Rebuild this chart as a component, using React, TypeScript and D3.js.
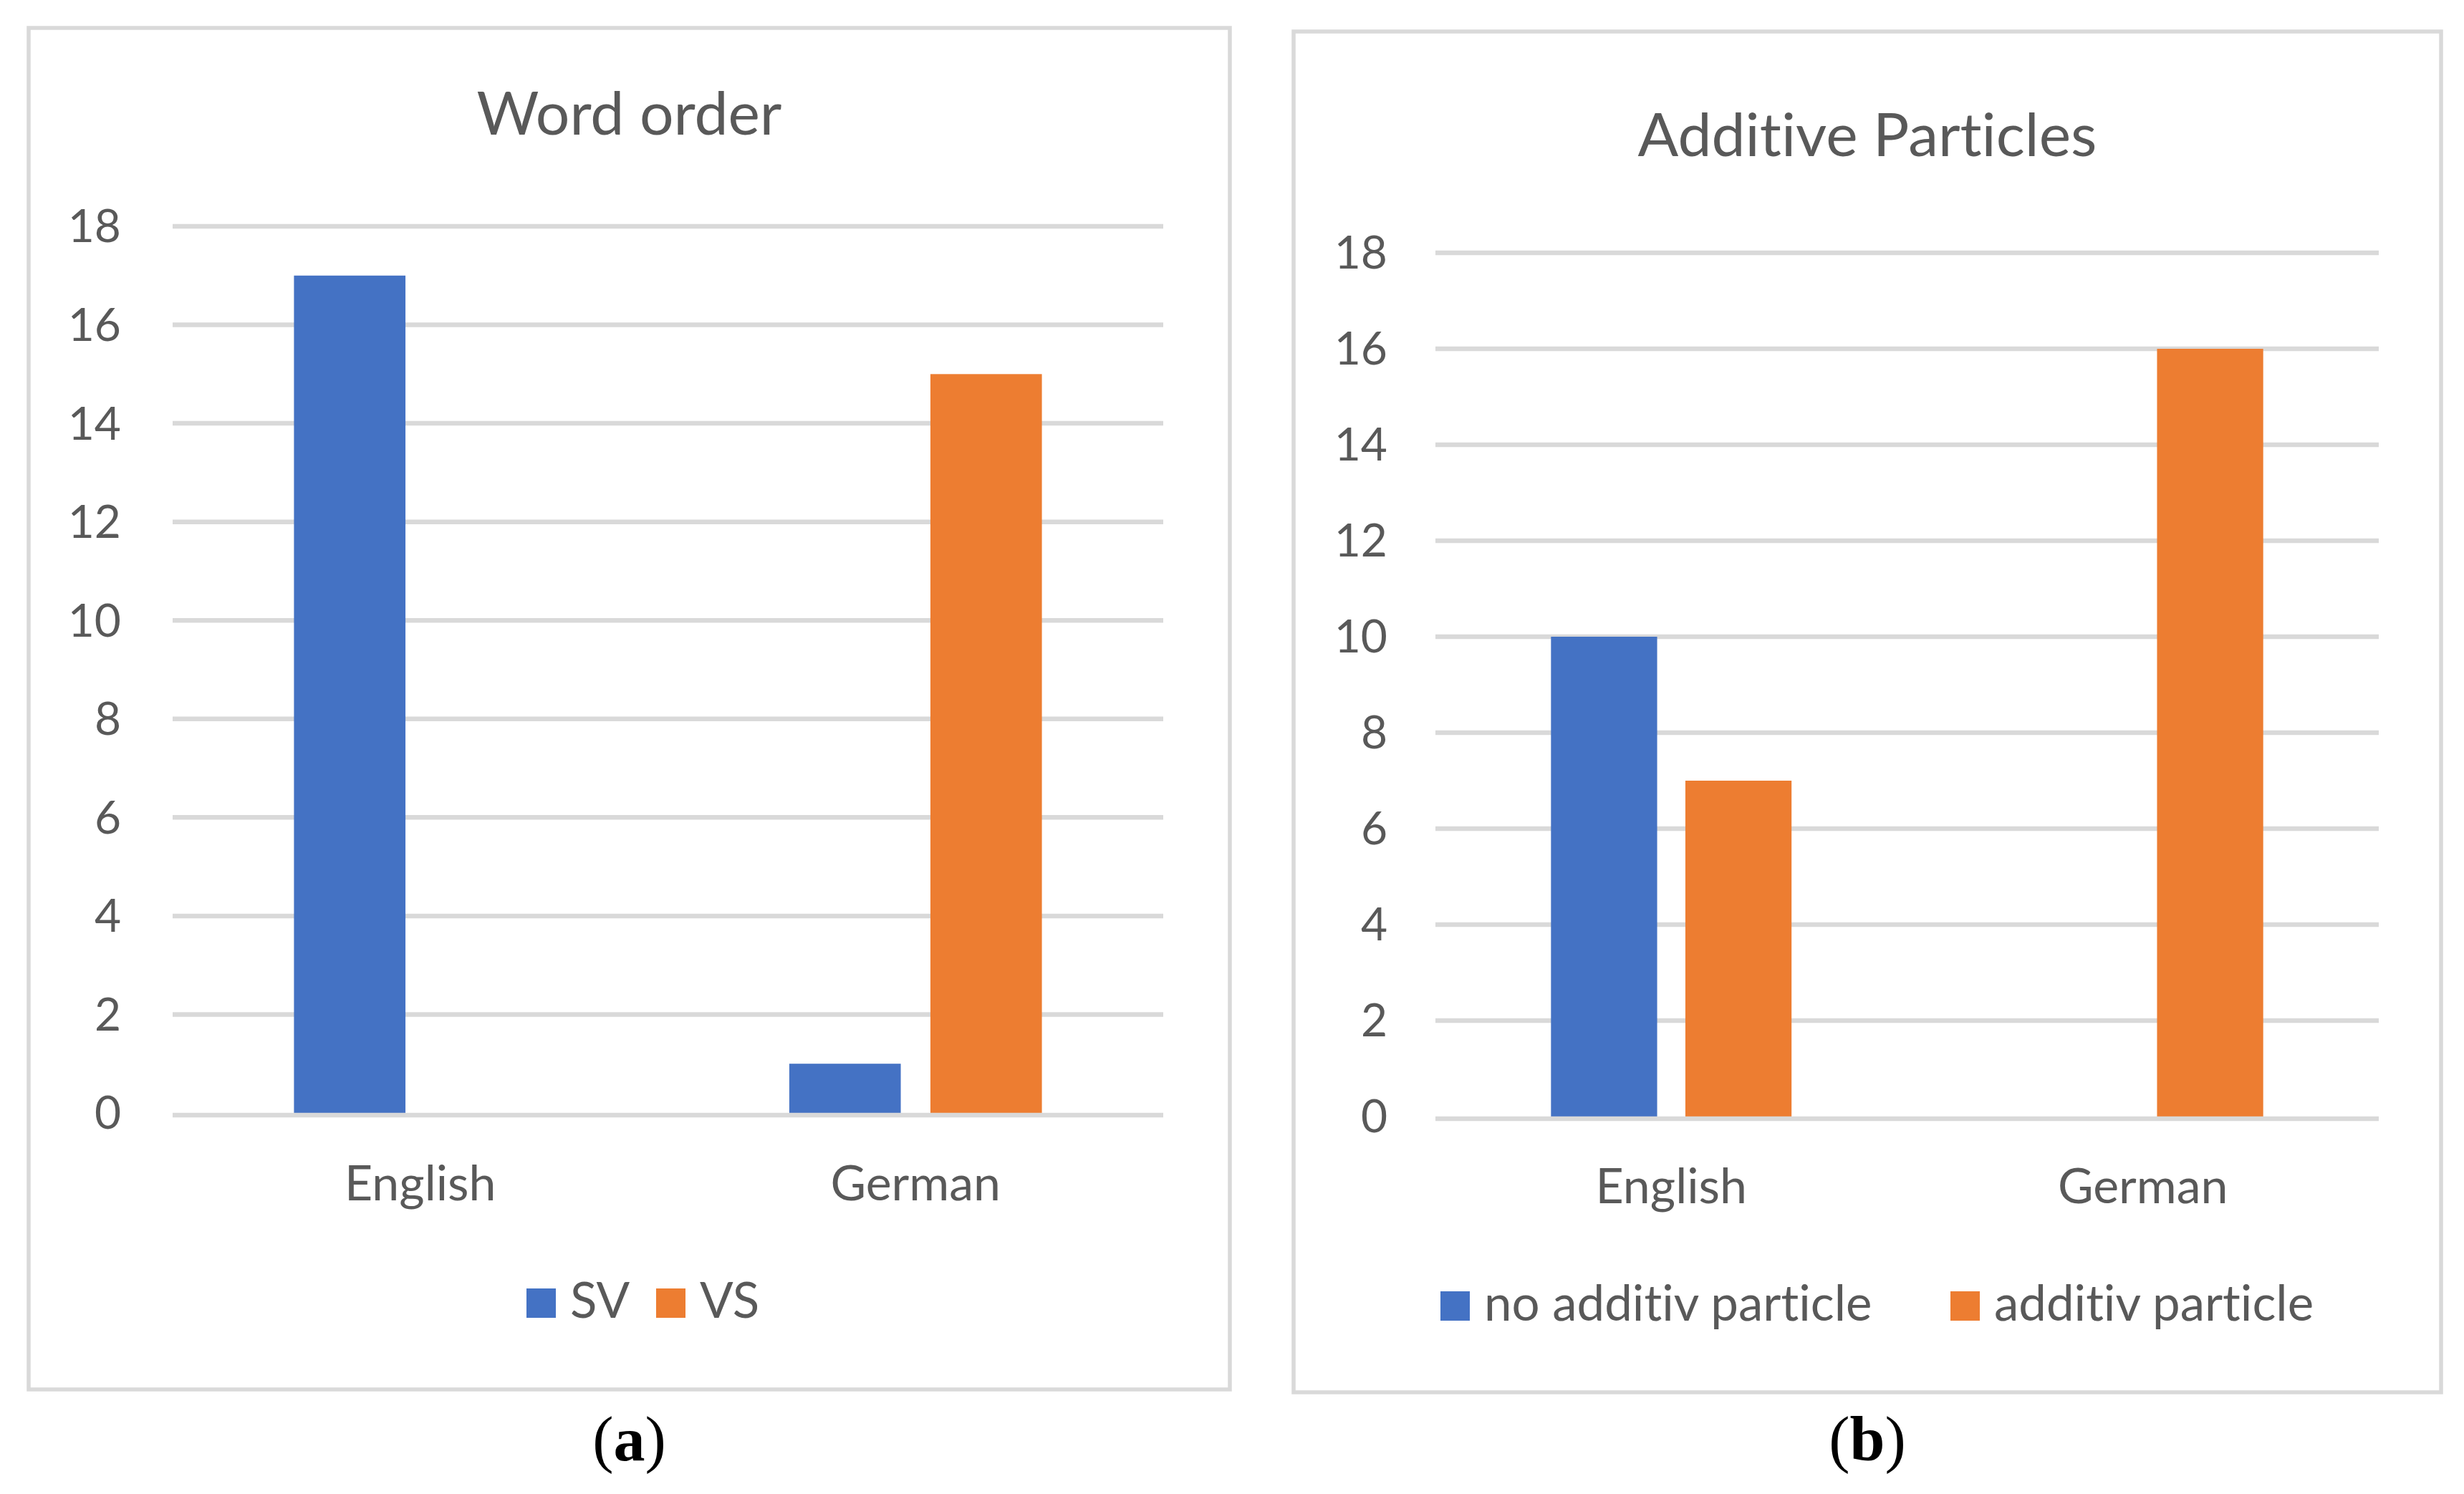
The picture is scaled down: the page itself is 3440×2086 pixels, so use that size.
import React, { useRef, useEffect } from 'react';
import { select, scaleLinear, scaleBand } from 'd3';

const categories = ['English', 'German'];
const yTicks = [0, 2, 4, 6, 8, 10, 12, 14, 16, 18];

const wordOrderSeries = ['SV', 'VS'];
const wordOrderSV = [17, 1];
const wordOrderVS = [0, 15];

const particleSeries = ['no additiv particle', 'additiv particle'];
const particleNone = [10, 0];
const particleAdditive = [7, 16];

const colors = ['#4472c4', '#ed7d31'];
const textColor = '#595959';
const gridColor = '#d9d9d9';
const font = 'Lato, "Open Sans", sans-serif';

const panels = [
    {
        title: 'Word order',
        caption: 'a',
        series: wordOrderSeries,
        values: [wordOrderSV, wordOrderVS],
        box: { x0: 40, y0: 39, x1: 1717, y1: 1940 },
        plot: { x0: 241, x1: 1624, y0: 316, y1: 1554 },
        titleY: 188,
        tickX: 169,
        labelY: 1676,
        legendX: [735, 916],
        legendY: 1799,
    },
    {
        title: 'Additive Particles',
        caption: 'b',
        series: particleSeries,
        values: [particleNone, particleAdditive],
        box: { x0: 1806, y0: 44, x1: 3408, y1: 1944 },
        plot: { x0: 2004, x1: 3321, y0: 353, y1: 1559 },
        titleY: 218,
        tickX: 1937,
        labelY: 1680,
        legendX: [2011, 2723],
        legendY: 1803,
    },
];

const drawPanel = (g, p) => {
    const cx = (p.box.x0 + p.box.x1) / 2;

    g.append('rect')
        .attr('x', p.box.x0)
        .attr('y', p.box.y0)
        .attr('width', p.box.x1 - p.box.x0)
        .attr('height', p.box.y1 - p.box.y0)
        .attr('fill', '#fff')
        .attr('stroke', gridColor)
        .attr('stroke-width', 5.5);

    g.append('text')
        .attr('x', cx)
        .attr('y', p.titleY)
        .attr('text-anchor', 'middle')
        .attr('font-size', 84)
        .attr('fill', textColor)
        .text(p.title);

    const yScale = scaleLinear().domain([0, 18]).range([p.plot.y1, p.plot.y0]);
    const xScale = scaleBand()
        .domain(categories)
        .range([p.plot.x0, p.plot.x1])
        .paddingInner(0.49)
        .paddingOuter(0.245);
    const inner = scaleBand()
        .domain(p.series)
        .range([0, xScale.bandwidth()])
        .paddingInner(0.21);

    // gridlines (behind bars)
    g.selectAll('.grid')
        .data(yTicks.filter(t => t > 0))
        .join('line')
        .attr('x1', p.plot.x0)
        .attr('x2', p.plot.x1)
        .attr('y1', d => yScale(d))
        .attr('y2', d => yScale(d))
        .attr('stroke', gridColor)
        .attr('stroke-width', 6.5);

    g.selectAll('.tick')
        .data(yTicks)
        .join('text')
        .attr('x', p.tickX)
        .attr('y', d => yScale(d))
        .attr('dy', '0.35em')
        .attr('text-anchor', 'end')
        .attr('font-size', 64)
        .attr('fill', textColor)
        .text(d => d);

    p.series.forEach((s, si) => {
        g.append('g')
            .selectAll('rect')
            .data(p.values[si])
            .join('rect')
            .attr('x', (d, i) => xScale(categories[i]) + inner(s))
            .attr('width', inner.bandwidth())
            .attr('y', d => yScale(d))
            .attr('height', d => yScale(0) - yScale(d))
            .attr('fill', colors[si]);
    });

    // zero line on top of bars
    g.append('line')
        .attr('x1', p.plot.x0)
        .attr('x2', p.plot.x1)
        .attr('y1', yScale(0) + 3)
        .attr('y2', yScale(0) + 3)
        .attr('stroke', gridColor)
        .attr('stroke-width', 6.5);

    g.selectAll('.cat')
        .data(categories)
        .join('text')
        .attr('x', d => xScale(d) + xScale.bandwidth() / 2)
        .attr('y', p.labelY)
        .attr('text-anchor', 'middle')
        .attr('font-size', 68)
        .attr('fill', textColor)
        .text(d => d);

    const legend = g.selectAll('.legend')
        .data(p.series)
        .join('g')
        .attr('transform', (d, i) => `translate(${p.legendX[i]},${p.legendY})`);
    legend.append('rect')
        .attr('width', 41)
        .attr('height', 41)
        .attr('fill', (d, i) => colors[i]);
    legend.append('text')
        .attr('x', 61)
        .attr('y', 41)
        .attr('font-size', 69)
        .attr('fill', textColor)
        .text(d => d);

    const cap = g.append('text')
        .attr('x', cx)
        .attr('y', 2039)
        .attr('text-anchor', 'middle')
        .attr('font-family', '"Liberation Serif", "Times New Roman", serif')
        .attr('font-size', 88)
        .attr('fill', '#000');
    cap.append('tspan').text('(');
    cap.append('tspan').attr('font-weight', 'bold').text(p.caption);
    cap.append('tspan').text(')');
};

export default function App() {
    const svgRef = useRef(null);

    useEffect(() => {
        document.body.style.margin = '0';
        const svg = select(svgRef.current);
        svg.selectAll('*').remove();
        panels.forEach(p => drawPanel(svg.append('g'), p));
    }, []);

    return (
        <svg
            ref={svgRef}
            width={3440}
            height={2086}
            style={{
                display: 'block',
                background: '#fff',
                fontFamily: font,
                fontVariantLigatures: 'none',
                fontFeatureSettings: '"liga" 0, "clig" 0',
            }}
        />
    );
}
